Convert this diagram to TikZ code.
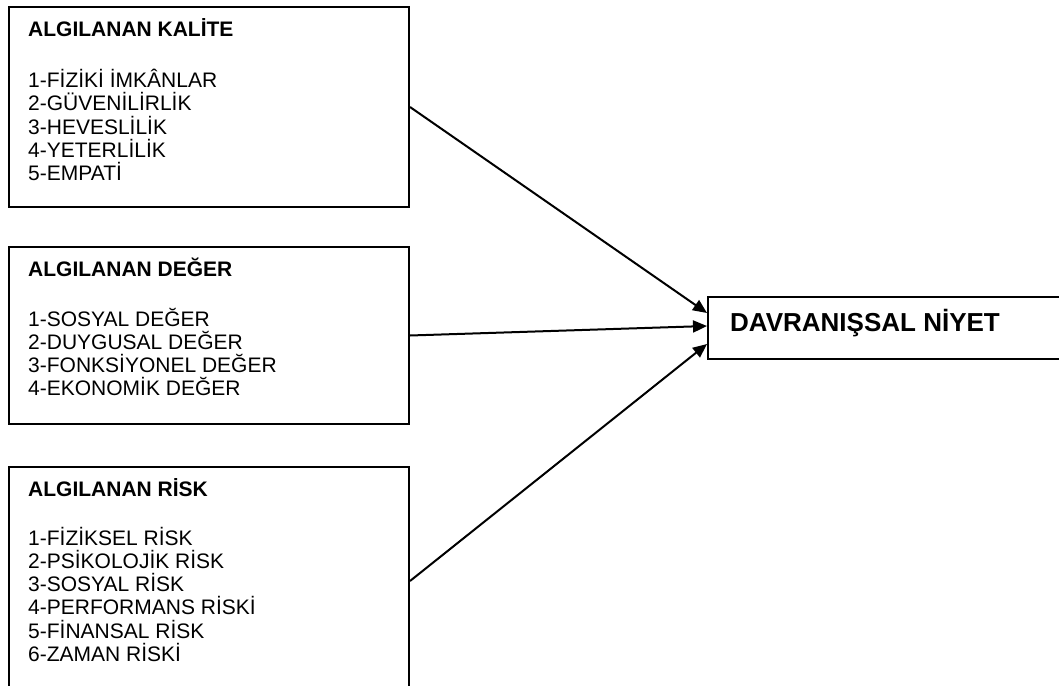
\documentclass[tikz,border=0pt]{standalone}
\usepackage{fontspec}
\setmainfont{Liberation Sans}
\usetikzlibrary{arrows.meta, positioning}

\begin{document}
\begin{tikzpicture}[
        x=1pt, y=1pt,
        box/.style={draw, rectangle, line width=2pt, anchor=north west, inner sep=0pt, minimum width=400pt},
        head/.style={anchor=base west, inner sep=0pt, font=\fontsize{21}{23}\selectfont\bfseries},
        item/.style={anchor=base west, inner sep=0pt, font=\fontsize{21}{23}\selectfont},
        arrow/.style={-{Triangle[length=14pt, width=12pt]}, line width=2pt}
    ]
        \useasboundingbox (0,0) rectangle (1059,-685);

        % Perceived quality
        \node (kalite) [box, minimum height=200pt] at (8,-6) {};
        \node (kalite-t) [head] at ([shift={(20pt,-30.7pt)}]kalite.north west) {ALGILANAN KALİTE};
        \foreach \txt [count=\i] in {1-FİZİKİ İMKÂNLAR, 2-GÜVENİLİRLİK, 3-HEVESLİLİK, 4-YETERLİLİK, 5-EMPATİ}
            \node (kalite-\i) [item] at ([yshift={-50.7pt-(\i-1)*23.3pt}]kalite-t.base west) {\txt};

        % Perceived value
        \node (deger) [box, minimum height=177pt] at (8,-246) {};
        \node (deger-t) [head] at ([shift={(20pt,-30.7pt)}]deger.north west) {ALGILANAN DEĞER};
        \foreach \txt [count=\i] in {1-SOSYAL DEĞER, 2-DUYGUSAL DEĞER, 3-FONKSİYONEL DEĞER, 4-EKONOMİK DEĞER}
            \node (deger-\i) [item] at ([yshift={-49.3pt-(\i-1)*23.3pt}]deger-t.base west) {\txt};

        % Perceived risk
        \node (risk) [box, minimum height=228pt] at (8,-466) {};
        \node (risk-t) [head] at ([shift={(20pt,-30.7pt)}]risk.north west) {ALGILANAN RİSK};
        \foreach \txt [count=\i] in {1-FİZİKSEL RİSK, 2-PSİKOLOJİK RİSK, 3-SOSYAL RİSK, 4-PERFORMANS RİSKİ, 5-FİNANSAL RİSK, 6-ZAMAN RİSKİ}
            \node (risk-\i) [item] at ([yshift={-48.3pt-(\i-1)*23.3pt}]risk-t.base west) {\txt};

        % Behavioural intention
        \node (niyet) [box, minimum width=360pt, minimum height=62pt] at (707,-296) {};
        \node (niyet-t) [head, font=\fontsize{26}{30}\selectfont\bfseries] at ([shift={(23pt,-35.7pt)}]niyet.north west) {DAVRANIŞSAL NİYET};

        % Connections
        \draw [arrow] (kalite.east) -- ([yshift=15pt]niyet.west);
        \draw [arrow] (deger.east) -- ([yshift=2pt]niyet.west);
        \draw [arrow] (risk.east) -- ([yshift=-16pt]niyet.west);
    \end{tikzpicture}
\end{document}
